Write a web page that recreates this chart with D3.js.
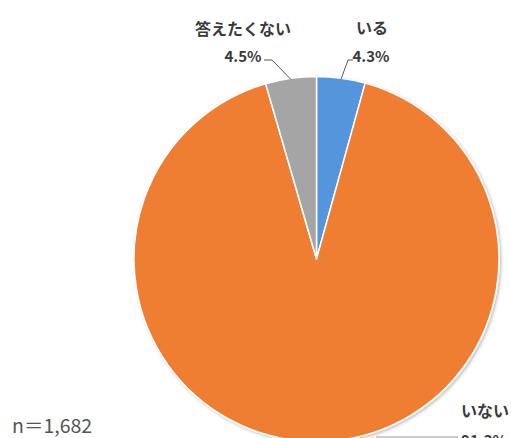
<!DOCTYPE html>
<html>
<head>
<meta charset="utf-8">
<script src="https://cdn.jsdelivr.net/npm/d3@7"></script>
<style>
  html, body { margin: 0; padding: 0; background: #fff; }
  svg { display: block; }
</style>
</head>
<body>
<svg id="chart" width="511" height="438"></svg>
<script>
// Survey answers, clockwise from 12 o'clock
const categories = ["いる", "いない", "答えたくない"];
const values = [4.3, 91.3, 4.5];
const valueLabels = ["4.3%", "91.3%", "4.5%"];
const colors = ["#5595DB", "#EF7E30", "#A5A5A5"];
const sampleNote = "n＝1,682";

const svg = d3.select("#chart");
const cx = 316.5, cy = 259, radius = 182.5;

const defs = svg.append("defs");
const shadow = defs.append("filter").attr("id", "softShadow")
  .attr("x", "-10%").attr("y", "-10%").attr("width", "120%").attr("height", "120%");
shadow.append("feDropShadow")
  .attr("dx", 1.5).attr("dy", 1.5).attr("stdDeviation", 1.5)
  .attr("flood-color", "#000").attr("flood-opacity", 0.25);

const pie = d3.pie().sort(null).value(d => d.value);
const arcs = pie(categories.map((c, i) => ({ name: c, value: values[i], label: valueLabels[i], color: colors[i] })));
const arc = d3.arc().innerRadius(0).outerRadius(radius);

const g = svg.append("g").attr("transform", `translate(${cx},${cy})`);
g.append("g").attr("filter", "url(#softShadow)")
  .selectAll("path").data(arcs).join("path")
  .attr("d", arc)
  .attr("fill", d => d.data.color)
  .attr("stroke", "#fff")
  .attr("stroke-width", 1.5)
  .attr("stroke-linejoin", "round");

// Data labels placed outside, with leader lines back to the slice edge
const fontFamily = "'Noto Sans CJK JP', 'Noto Sans', sans-serif";
const textColor = "#3a3a3a";
const labelPos = [
  { nameX: 372, nameY: 34, valX: 371, valY: 62, line: [[348, 60], [353, 60]] },
  { nameX: 485, nameY: 417, valX: 484, valY: 446, line: [[458, 437]] },
  { nameX: 243, nameY: 35, valX: 243, valY: 62, line: [[272, 60], [264, 60]] }
];

// Point on the rim of a slice where its leader line meets the pie
function edgePoint(d, frac) {
  const a = d.startAngle + (d.endAngle - d.startAngle) * frac;
  return [cx + radius * Math.sin(a), cy - radius * Math.cos(a)];
}

arcs.forEach((d, i) => {
  const p = labelPos[i];
  let pts;
  if (i === 1) {
    pts = [[376, 437], p.line[0]];
  } else {
    const e = edgePoint(d, 0.5);
    pts = [[e[0], e[1] + 1], p.line[0], p.line[1]];
  }
  svg.append("path")
    .attr("d", d3.line()(pts))
    .attr("fill", "none")
    .attr("stroke", i === 1 ? "#9a9a9a" : "#595959")
    .attr("stroke-width", 1);

  svg.append("text")
    .attr("x", p.nameX).attr("y", p.nameY)
    .attr("text-anchor", "middle")
    .attr("font-family", fontFamily)
    .attr("font-weight", "bold")
    .attr("font-size", 16)
    .attr("fill", textColor)
    .text(d.data.name);
  svg.append("text")
    .attr("x", p.valX).attr("y", p.valY)
    .attr("text-anchor", "middle")
    .attr("font-family", fontFamily)
    .attr("font-weight", "bold")
    .attr("font-size", 15)
    .attr("fill", textColor)
    .text(d.data.label);
});

svg.append("text")
  .attr("x", 12).attr("y", 433)
  .attr("font-family", fontFamily)
  .attr("font-size", 19.5)
  .attr("fill", "#555")
  .text(sampleNote);
</script>
</body>
</html>
